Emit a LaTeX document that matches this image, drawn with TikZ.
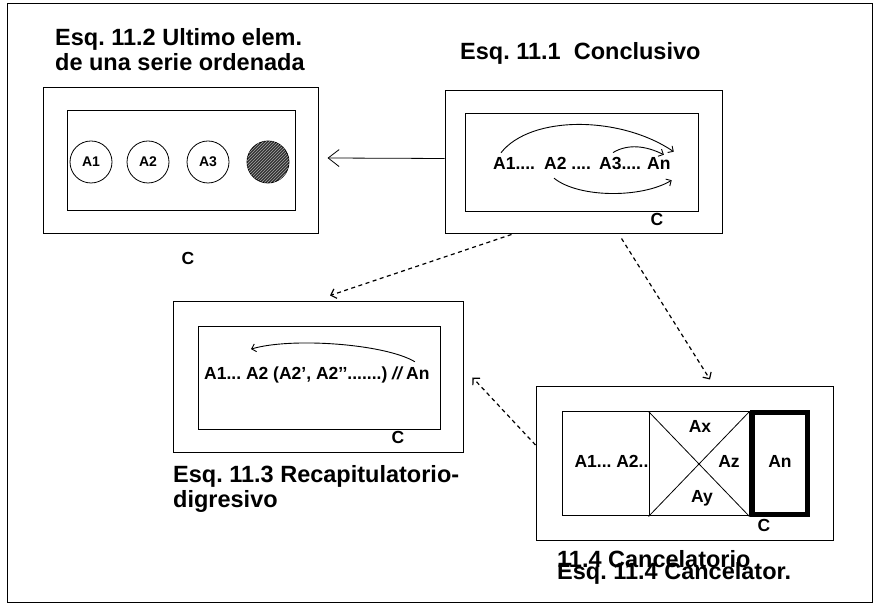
\documentclass[tikz,border=0pt]{standalone}
\usepackage{fontspec}
\setmainfont{Liberation Sans}
\usetikzlibrary{arrows.meta,positioning,patterns}
\frenchspacing

\begin{document}
\begin{tikzpicture}[
  x=1pt,y=1pt,
  box/.style={draw,line width=1pt,inner sep=0pt},
  elem/.style={draw,circle,line width=0.8pt,minimum size=42pt,inner sep=0pt,font=\fontsize{14}{14}\selectfont\bfseries},
  lbl/.style={inner sep=1pt,font=\fontsize{17.5}{17.5}\selectfont\bfseries},
  ttl/.style={inner sep=0pt,align=left,font=\fontsize{23.5}{25}\selectfont\bfseries},
  arc/.style={line width=0.9pt,-{Straight Barb[length=4pt,width=8pt]}},
  arr/.style={line width=0.8pt,-{Straight Barb[length=11pt,width=17pt]}},
  dsh/.style={line width=1.2pt,dash pattern=on 4pt off 3.5pt,-{Straight Barb[angle=90:7pt]}}
]
\useasboundingbox (0,0) rectangle (874,612);
\draw[line width=1pt] (7,9) rectangle (872,608);

% Esq. 11.2
\node[ttl,anchor=north west] (t2) at (55,584) {Esq. 11.2 Ultimo elem.\\de una serie ordenada};
\node[box,minimum width=275pt,minimum height=146pt] (b2o) at (180.5,451) {};
\node[box,minimum width=228pt,minimum height=100pt] (b2i) at (181,451) {};
\node[elem] (e1) at (91,450) {A1};
\node[elem] (e2) at (148,450) {A2};
\node[elem] (e3) at (208,450) {A3};
\node[elem,fill=black!80,postaction={pattern=north east lines,pattern color=black!35}] (e4) at (268,450) {};
\node[lbl] (c2) at (188,354) {C};

% Esq. 11.1
\node[ttl,anchor=base west] (t1) at (460,552) {Esq. 11.1\ \ Conclusivo};
\node[box,minimum width=277pt,minimum height=143pt] (b1o) at (583.5,449.5) {};
\node[box,minimum width=233pt,minimum height=98pt] (b1i) at (581.5,449) {};
\node[lbl,anchor=base west] (a1) at (492,442) {A1....};
\node[lbl,anchor=base west] (a2) at (543,442) {A2 ....};
\node[lbl,anchor=base west] (a3) at (598,442) {A3....};
\node[lbl,anchor=base west] (an) at (646,442) {An};
\node[lbl] (c1) at (657,393) {C};
\draw[arc] ([shift={(9,4)}]a1.north west) .. controls +(30,38) and +(-53,36) .. ([shift={(2,5)}]an.north east);
\draw[arc] ([shift={(15,4)}]a3.north west) .. controls +(15,9) and +(-18,9) .. ([shift={(5,2)}]an.north);
\draw[arc] ([shift={(11,-7)}]a2.south west) .. controls +(25,-20) and +(-30,-18) .. ([shift={(0,-9)}]an.south east);

% Esq. 11.3
\node[box,minimum width=290pt,minimum height=151pt] (b3o) at (318,234.5) {};
\node[box,minimum width=242pt,minimum height=103pt] (b3i) at (319,233.5) {};
\node[lbl,anchor=base west] (r1) at (203,232) {A1... A2 (A2', A2{'}{'}.......) \textit{//}};
\node[lbl,anchor=base west] (rn) at (405,232) {An};
\node[lbl] (c3) at (398,175) {C};
\draw[arc] ([shift={(-3,5)}]rn.north) .. controls +(-30,18) and +(40,12) .. ([shift={(48,17)}]r1.north west);
\node[ttl,anchor=north west] (t3) at (173,147) {Esq. 11.3 Recapitulatorio-\\digresivo};

% Esq. 11.4
\node[box,minimum width=297pt,minimum height=154pt] (b4o) at (684.5,148) {};
\node[box,minimum width=87pt,minimum height=104pt] (l4) at (605.5,148) {};
\node[box,minimum width=100pt,minimum height=104pt] (m4) at (699,148) {};
\draw[line width=0.8pt] (m4.north west) -- (m4.south east);
\draw[line width=0.8pt] (m4.south west) -- (m4.north east);
\node[box,line width=5pt,minimum width=55pt,minimum height=102pt] (n4) at (780,148.5) {};
\node[lbl,anchor=base] (x4) at (611.5,144) {A1... A2..};
\node[lbl,anchor=base] (ax) at (700,179) {Ax};
\node[lbl,anchor=base] (az) at (729,144) {Az};
\node[lbl,anchor=base] (ay) at (702,109) {Ay};
\node[lbl,anchor=base] (an4) at (780,144) {An};
\node[lbl] (c4) at (764,87) {C};
\node[ttl,anchor=base west] (t4a) at (557,44) {11.4 Cancelatorio};
\node[ttl,anchor=base west] (t4b) at ([yshift=-12pt]t4a.base west) {Esq. 11.4 Cancelator.};

% conexiones
\draw[arr] ([yshift=4pt]b1o.west) -- ([shift={(9,3)}]b2o.east);
\draw[dsh] ([xshift=-72pt]b1o.south) -- ([shift={(12,6)}]b3o.north);
\draw[dsh] ([shift={(38,-4)}]b1o.south) -- ([shift={(25.5,7)}]b4o.north);
\draw[dsh] ([yshift=19pt]b4o.west) -- ([xshift=9pt]b3o.east);
\end{tikzpicture}
\end{document}
